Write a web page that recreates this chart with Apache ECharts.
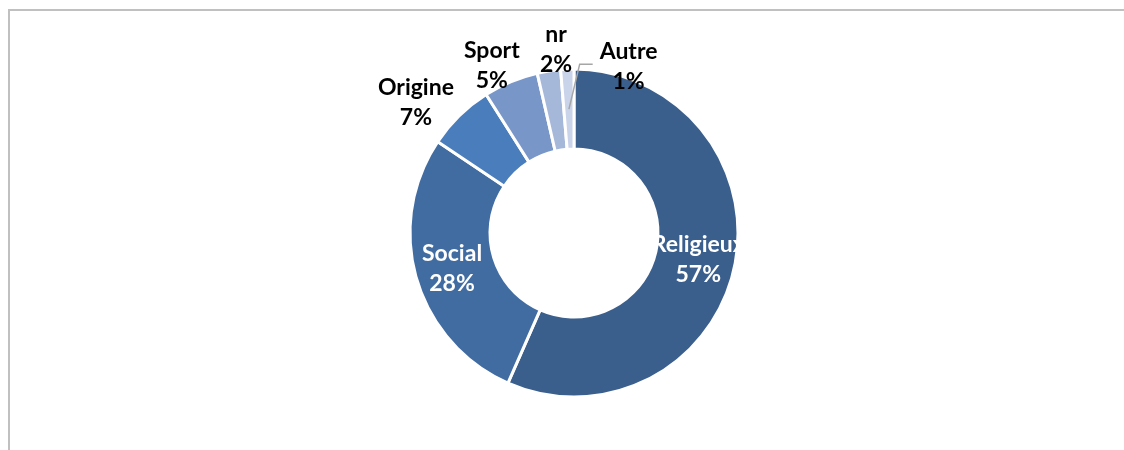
<!DOCTYPE html>
<html>
<head>
<meta charset="utf-8">
<title>Répartition</title>
<script src="https://cdn.jsdelivr.net/npm/echarts@6/dist/echarts.min.js"></script>
<style>
  html, body { margin: 0; padding: 0; background: #fff; }
  #frame {
    position: absolute; left: 8px; top: 9px; width: 1116px; height: 441px;
    border-top: 2px solid #c0c0c0; border-left: 2px solid #c0c0c0;
    box-sizing: border-box;
  }
  #main { position: absolute; left: 0; top: 0; width: 1124px; height: 450px; }
</style>
</head>
<body>
<div id="frame"></div>
<div id="main"></div>
<script>
// données du graphique
var categories = ['Religieux', 'Social', 'Origine', 'Sport', 'nr', 'Autre'];
var values = [56.6, 27.8, 6.6, 5.4, 2.3, 1.3];
var colors = ['#3b5f8c', '#416ca2', '#4a7dbb', '#7896c8', '#a6b8da', '#c9d3e9'];
var insideLabels = ['Religieux', 'Social'];

// petits décalages des étiquettes extérieures (placement type Excel)
var labelNudge = {
  'Origine': [-26, 0],
  'Sport': [-7, 1],
  'nr': [15, -4],
  'Autre': [67, 15]
};

var pieCenter = [574, 233];
var pieRadius = [84, 164];
var leaderPoints = null;

var chart = echarts.init(document.getElementById('main'));

// angle médian d'une part (sens horaire depuis le haut)
function midAngle(idx) {
  var total = values.reduce(function (a, b) { return a + b; }, 0);
  var before = 0;
  for (var i = 0; i < idx; i++) before += values[i];
  return (before + values[idx] / 2) / total * Math.PI * 2;
}

var data = categories.map(function (name, i) {
  var inside = insideLabels.indexOf(name) >= 0;
  return {
    name: name,
    value: values[i],
    itemStyle: { color: colors[i] },
    label: {
      position: inside ? 'inside' : 'outside',
      color: inside ? '#ffffff' : '#000000'
    },
    labelLine: { show: false }
  };
});

chart.setOption({
  animation: false,
  series: [{
    type: 'pie',
    center: pieCenter,
    radius: pieRadius,
    startAngle: 90,
    clockwise: true,
    avoidLabelOverlap: false,
    emphasis: { disabled: true },
    itemStyle: { borderColor: '#ffffff', borderWidth: 3 },
    label: {
      fontFamily: 'Lato',
      fontWeight: 'bold',
      fontSize: 23,
      lineHeight: 30,
      align: 'center',
      formatter: function (p) {
        return p.name + '\n' + Math.round(p.percent) + '%';
      }
    },
    labelLine: { show: true, length: 18, length2: 0 },
    labelLayout: function (p) {
      var name = categories[p.dataIndex];
      var n = labelNudge[name];
      if (!n) return {};
      if (name === 'Autre' && !leaderPoints) {
        // ligne de rappel : part du milieu de l'anneau, monte puis file vers l'étiquette
        var r = p.labelRect;
        var cy = r.y + r.height / 2 + n[1];
        var left = r.x + r.width + n[0] - r.width / 2;
        var a = midAngle(p.dataIndex);
        var rr = (pieRadius[0] + pieRadius[1]) / 2;
        var start = [pieCenter[0] + Math.sin(a) * rr, pieCenter[1] - Math.cos(a) * rr];
        var end = [left - 7, cy - 2];
        leaderPoints = [start, [end[0] - 13, end[1]], end];
      }
      return { align: 'center', verticalAlign: 'middle', dx: n[0], dy: n[1] };
    },
    data: data
  }]
});

// la ligne de rappel est ajoutée directement sur le rendu, sans relancer la mise en page
if (leaderPoints) {
  chart.getZr().add(new echarts.graphic.Polyline({
    z: 100,
    silent: true,
    shape: { points: leaderPoints },
    style: { stroke: '#a6a6a6', lineWidth: 1.5, fill: null }
  }));
}
</script>
</body>
</html>
